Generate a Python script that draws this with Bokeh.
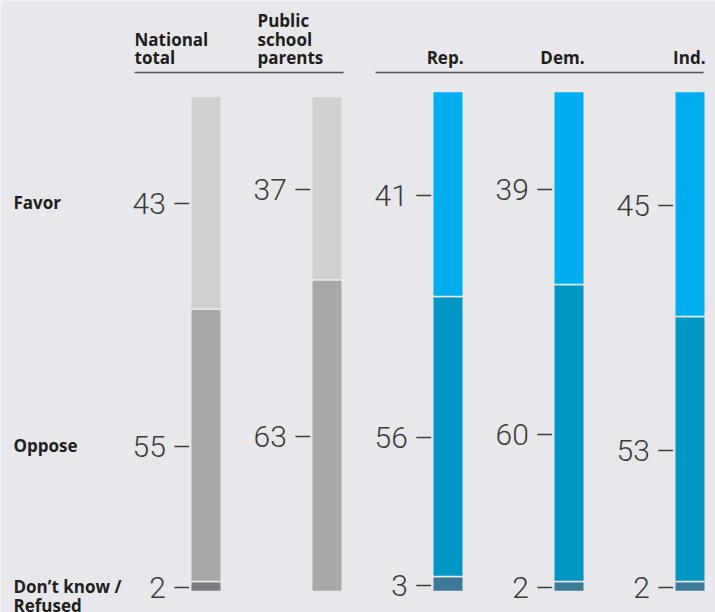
from bokeh.plotting import figure
from bokeh.models import Range1d
from bokeh.core.properties import value
from bokeh.embed import file_html
from bokeh.resources import INLINE

# ---------------- data ----------------
groups = ["National total", "Public school parents", "Rep.", "Dem.", "Ind."]
header_lines = [["National", "total"], ["Public", "school", "parents"], ["Rep."], ["Dem."], ["Ind."]]
favor = [43, 37, 41, 39, 45]
oppose = [55, 63, 56, 60, 53]
dont_know = [2, 0, 3, 2, 2]
row_labels = [["Favor"], ["Oppose"], ["Don\u2019t know /", "Refused"]]

# ---------------- styles ----------------
BG = "#e8e8ec"
GRAY = ["#d1d1d4", "#a8a8ab", "#7c7d80"]     # favor, oppose, don't know
BLUE = ["#00aeef", "#0097c4", "#3c7a96"]
NUM_FONT = value("Roboto Light")
HEAD_FONT = value("Open Sans")
TEXT_DARK = "#1e1e1e"
NUM_COLOR = "#3a3a3a"

# ---------------- layout (screen px) ----------------
W, H = 715, 612
MX, MY = 0, 0
BAR0 = 205.5          # centre of first bar
STEP = 121
BAR_W = 29
BASE = 591            # bottom of bars
SCALE_R = 5.0         # px per percent, right panel
SCALE_L = 4.95        # px per percent, left panel
HEAD_BASE = 57        # baseline of last header line
HEAD_LH = 18.5


def dx(sx):
    return (sx - BAR0) / STEP


def dy(sy):
    return (BASE - sy) / SCALE_R


p = figure(width=W, height=H, output_backend="svg", toolbar_location=None,
           x_range=Range1d(dx(MX), dx(MX + W)),
           y_range=Range1d(dy(MY + H), dy(MY)),
           min_border=0)
p.extra_y_ranges = {"left": Range1d((BASE - MY - H) / SCALE_L, (BASE - MY) / SCALE_L)}
p.xaxis.visible = False
p.yaxis.visible = False
p.grid.visible = False
p.outline_line_color = None
p.background_fill_color = BG
p.border_fill_color = BG

for i in range(len(groups)):
    vals = [favor[i], oppose[i], dont_know[i]]
    total = sum(vals)
    norm = [v * 100.0 / total for v in vals]
    rng = "left" if i < 2 else "default"
    cols = GRAY if i < 2 else BLUE
    bottom = 0.0
    segs = []
    for k in (2, 1, 0):
        if vals[k] <= 0:
            continue
        top = bottom + norm[k]
        segs.append((k, bottom, top))
        bottom = top
    for k, b, t in segs:
        p.vbar(x=[i], bottom=[b], top=[t], width=(BAR_W + 1.5) / STEP,
               fill_color=cols[k], line_color=BG, line_width=1.5, y_range_name=rng)
        p.text(x=[i], y=[(b + t) / 2], text=[f"{vals[k]}\u2009\u2013"],
               x_offset=-(BAR_W / 2), y_offset=1,
               text_align="right", text_baseline="middle",
               text_font=NUM_FONT, text_font_size="30px", text_color=NUM_COLOR,
               y_range_name=rng)
    if i == 0:
        for k, b, t in segs:
            lines = row_labels[k]
            for j, ln in enumerate(lines):
                p.text(x=[dx(13)], y=[(b + t) / 2], text=[ln], y_offset=j * 18.5,
                       text_align="left", text_baseline="middle",
                       text_font=HEAD_FONT, text_font_style="bold",
                       text_font_size="17px", text_color=TEXT_DARK,
                       y_range_name=rng)

# headers
head_left_x = [134, 257]
for i, lines in enumerate(header_lines):
    n = len(lines)
    for j, ln in enumerate(lines):
        sy = HEAD_BASE - (n - 1 - j) * HEAD_LH
        if i < 2:
            x = dx(head_left_x[i])
            align = "left"
            xo = 0
        else:
            x = i
            align = "right"
            xo = BAR_W / 2 + 1
        p.text(x=[x], y=[dy(sy)], text=[ln], x_offset=xo,
               text_align=align, text_baseline="alphabetic",
               text_font=HEAD_FONT, text_font_style="bold",
               text_font_size="17px", text_color=TEXT_DARK)

# header rules
p.segment(x0=[dx(134), dx(375)], y0=[dy(72)] * 2, x1=[dx(343), dx(703)], y1=[dy(72)] * 2,
          line_color="#555555", line_width=1.5)

open("out.html", "w").write(file_html(p, INLINE))
